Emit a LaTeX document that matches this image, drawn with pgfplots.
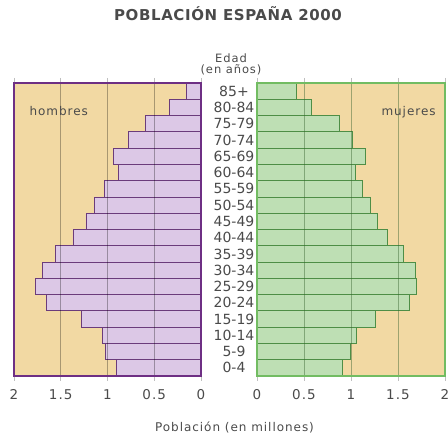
\documentclass[border=0pt]{standalone}
\usepackage{pgfplots}
\pgfplotsset{compat=1.18}
\usepackage{fontspec}
\setmainfont{DejaVu Sans}
\newfontfamily\spaced[LetterSpace=8]{DejaVu Sans}
\newfontfamily\spacedB[LetterSpace=4]{DejaVu Sans Bold}
\definecolor{tanbg}{HTML}{F2D9A3}
\definecolor{lav}{HTML}{DCC8E6}
\definecolor{purpframe}{HTML}{6E2F84}
\definecolor{purpline}{HTML}{6B3C7B}
\definecolor{grn}{HTML}{BEDFB4}
\definecolor{grnframe}{HTML}{72BC62}
\definecolor{grnline}{HTML}{4E8E46}
\definecolor{txtgray}{HTML}{4A4A4A}

\pgfplotstableread{
y  v
0  0.90
1  1.02
2  1.05
3  1.28
4  1.65
5  1.77
6  1.70
7  1.56
8  1.37
9  1.23
10 1.14
11 1.03
12 0.88
13 0.94
14 0.78
15 0.59
16 0.34
17 0.16
}\hombres

\pgfplotstableread{
y  v
0  0.91
1  0.99
2  1.06
3  1.26
4  1.62
5  1.70
6  1.68
7  1.56
8  1.39
9  1.28
10 1.21
11 1.12
12 1.05
13 1.15
14 1.01
15 0.88
16 0.58
17 0.42
}\mujeres

\pgfplotsset{
  pyr/.style={
    scale only axis, width=187pt, height=293pt, anchor=south west,
    xbar, bar width=1,
    xmin=0, xmax=2, ymin=-0.5, ymax=17.5,
    xtick={0,0.5,1,1.5,2},
    xticklabels={0,0.5,1,1.5,2},
    xtick align=outside, major tick length=5pt,
    xticklabel style={font=\spaced\fontsize{13.5}{15}\selectfont, text=txtgray, yshift=-5pt},
    axis on top, xmajorgrids,
    axis background/.style={fill=tanbg},
  }
}

\begin{document}
\begin{tikzpicture}[x=1pt,y=1pt]
\path[use as bounding box] (0,0) rectangle (448,434);
\node[font=\spacedB\fontsize{15}{17}\selectfont, text=txtgray] at (228,420) {POBLACIÓN ESPAÑA 2000};
\node[font=\spaced\fontsize{11.5}{13}\selectfont, text=txtgray] at (231,375.5) {Edad};
\node[font=\spaced\fontsize{11.5}{13}\selectfont, text=txtgray] at (231,364) {(en años)};

\begin{axis}[pyr, at={(14pt,58pt)}, x dir=reverse,
    ytick={0,...,17},
    yticklabels={0-4,5-9,10-14,15-19,20-24,25-29,30-34,35-39,40-44,45-49,50-54,55-59,60-64,65-69,70-74,75-79,80-84,85+},
    yticklabel pos=right, ytick style={draw=none},
    yticklabel style={anchor=center, xshift=28pt, font=\fontsize{14}{15}\selectfont, text=txtgray},
    axis line style={draw=purpframe, line width=1.8pt},
    xtick style={draw=black!25, line width=0.6pt},
    grid style={draw=black, opacity=0.3, line width=0.8pt}]
\addplot[fill=lav, draw=purpline, line width=0.8pt] table[x=v, y=y] {\hombres};
\end{axis}

\begin{axis}[pyr, at={(257pt,58pt)}, width=188pt,
    ytick=\empty,
    axis line style={draw=grnframe, line width=1.8pt},
    xtick style={draw=black!25, line width=0.6pt},
    grid style={draw=grnline!70!black, opacity=0.45, line width=0.8pt}]
\addplot[fill=grn, draw=grnline, line width=0.8pt] table[x=v, y=y] {\mujeres};
\end{axis}

\node[anchor=west, font=\spaced\fontsize{12}{13}\selectfont, text=txtgray] at (26,322.5) {hombres};
\node[anchor=west, font=\spaced\fontsize{12}{13}\selectfont, text=txtgray] at (378,322) {mujeres};
\node[font=\spaced\fontsize{12}{13}\selectfont, text=txtgray] at (234.5,7) {Población (en millones)};
\end{tikzpicture}
\end{document}
